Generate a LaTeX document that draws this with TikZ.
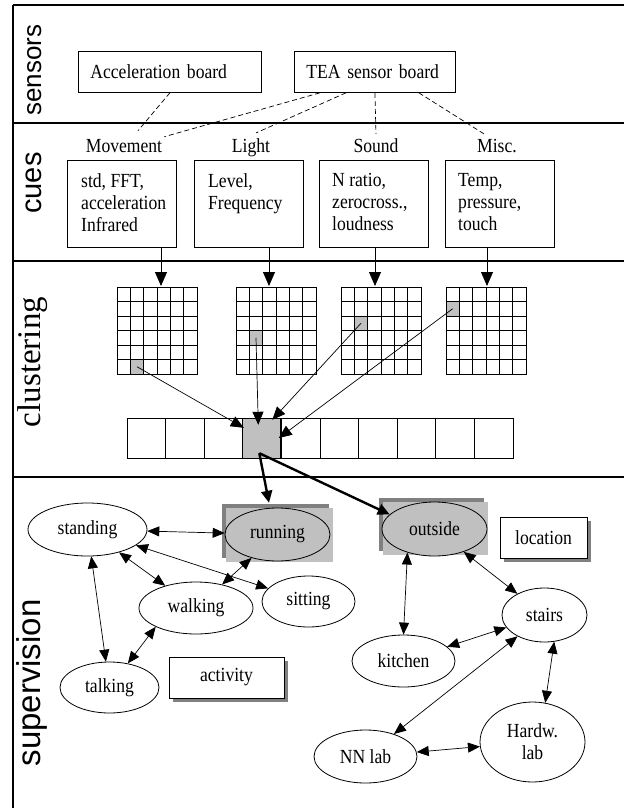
\documentclass[tikz,border=0pt]{standalone}
\usepackage{fontspec}
\setmainfont{Liberation Serif}
\setsansfont{Liberation Sans}
\newfontfamily\narrowserif[FakeStretch=0.88]{Liberation Serif}
\usepackage{tikz}
\usetikzlibrary{positioning,arrows.meta,shapes.geometric,shadows}
\definecolor{cellgray}{RGB}{192,192,192}
\definecolor{dropgray}{RGB}{128,128,128}

\begin{document}
\begin{tikzpicture}[x=1pt,y=-1pt,
    txt/.style={font=\narrowserif\fontsize{20}{22}\selectfont},
    sepline/.style={line width=2pt},
    seclabel/.style={rotate=90, anchor=base, inner sep=0pt},
    board/.style={txt, draw, line width=0.8pt, anchor=north west,
      minimum height=41pt, inner xsep=12pt, align=left},
    cuelabel/.style={txt, anchor=base, inner sep=2pt},
    cuebox/.style={draw, line width=0.8pt, anchor=north west,
      minimum width=109pt, minimum height=87pt},
    cuetext/.style={txt, anchor=north west, align=left, inner sep=0pt},
    wire/.style={dash pattern=on 5pt off 3pt, line width=0.7pt},
    feed/.style={-{Triangle[length=14pt,width=12pt]}, line width=0.8pt},
    clu/.style={-{Triangle[length=13pt,width=11pt]}, line width=0.7pt},
    hotcell/.style={draw, fill=cellgray, inner sep=0pt,
      minimum width=38.6pt, minimum height=40pt},
    oval/.style={txt, ellipse, draw, line width=0.8pt, fill=white,
      inner sep=0pt, align=center},
    backdrop/.style={fill=cellgray, inner sep=0pt,
      copy shadow={shadow xshift=-4pt, shadow yshift=4pt, fill=dropgray, draw=none}},
    tagbox/.style={txt, draw, line width=0.8pt, fill=white, inner sep=0pt,
      drop shadow={shadow xshift=4pt, shadow yshift=-4pt, fill=dropgray, opacity=1}},
    link/.style={{Triangle[length=12pt,width=10pt]}-{Triangle[length=12pt,width=10pt]},
      line width=0.7pt},
    push/.style={-{Triangle[length=12pt,width=11pt]}, line width=2.4pt},
  ]
  \useasboundingbox (0,0) rectangle (624,808);

  % frame and the four bands
  \draw[line width=1.5pt] (13,5) -- (13,808);
  \foreach \y in {5,123,261,477} \draw[sepline] (13,\y) -- (624,\y);
  \node[seclabel, font=\sffamily\fontsize{26}{26}\selectfont] (lsens) at (41,70) {sensors};
  \node[seclabel, font=\sffamily\fontsize{29}{29}\selectfont] (lcues) at (41,183) {cues};
  \node[seclabel, font=\rmfamily\fontsize{33}{33}\selectfont] (lclus) at (40,362) {clustering};
  \node[seclabel, font=\sffamily\fontsize{33}{33}\selectfont] (lsup) at (40,683) {supervision};

  % sensors
  \node[board, text width=159pt] (accb) at (78,51) {Acceleration board};
  \node[board, text width=137pt] (teab) at (294,51) {TEA sensor board};

  % cues
  \node[cuelabel] (mov) at (124,152) {Movement};
  \node[cuelabel] (lig) at (251,152) {Light};
  \node[cuelabel] (snd) at (376,152) {Sound};
  \node[cuelabel] (msc) at (497,152) {Misc.};
  \node[cuebox] (movbox) at (67,160) {};
  \node[cuebox] (ligbox) at (194,160) {};
  \node[cuebox] (sndbox) at (319,160) {};
  \node[cuebox] (mscbox) at (445,160) {};
  \node[cuetext] at ([xshift=14pt,yshift=-13.5pt]movbox.north west) {std, FFT,\\acceleration\\Infrared};
  \node[cuetext] at ([xshift=14pt,yshift=-13.5pt]ligbox.north west) {Level,\\Frequency};
  \node[cuetext] at ([xshift=13pt,yshift=-13.5pt]sndbox.north west) {N ratio,\\zerocross.,\\loudness};
  \node[cuetext] at ([xshift=13pt,yshift=-13.5pt]mscbox.north west) {Temp,\\pressure,\\touch};

  \draw[wire] (accb.south) -- ([xshift=14pt,yshift=6pt]mov.north);
  \draw[wire] ([xshift=26pt]teab.south west) -- (mov.north east);
  \draw[wire] ([xshift=52pt]teab.south west) -- ([xshift=5pt,yshift=3pt]lig.north);
  \draw[wire] (teab.south) -- ([yshift=2pt]snd.north);
  \draw[wire] ([xshift=-37pt]teab.south east) -- ([xshift=10pt,yshift=2pt]msc.north west);

  % clustering: four 6x6 maps, one winner cell each
  \foreach \gx/\ax/\cc/\rr/\gn in {117/161/1/5/1, 236/269/1/3/2, 341/375/1/2/3, 446/487/0/1/4} {
    \fill[cellgray] (\gx+13.33*\cc, 287+14.5*\rr) rectangle ++(13.33,14.5);
    \coordinate (hit\gn) at (\gx+13.33*\cc+6.67, 287+14.5*\rr+7.25);
    \coordinate (gtop\gn) at (\ax,286);
    \foreach \i in {0,...,5} \foreach \j in {0,...,5}
      \draw[line width=0.8pt] (\gx+13.33*\i, 287+14.5*\j) rectangle ++(13.33,14.5);
  }
  \foreach \b/\g in {movbox/1, ligbox/2, sndbox/3, mscbox/4}
    \draw[feed] (\b.south -| gtop\g) -- (gtop\g);

  \foreach \k in {0,...,9} \draw[line width=0.8pt] (127+38.6*\k,418) rectangle ++(38.6,40);
  \node[hotcell] (hot) at (261.3,438) {};
  \draw[clu] (hit1) -- ([xshift=2pt,yshift=-10pt]hot.north west);
  \draw[clu] (hit2) -- ([xshift=-3pt,yshift=-7pt]hot.north);
  \draw[clu] (hit3) -- ([xshift=11pt,yshift=-2pt]hot.north);
  \draw[clu] (hit4) -- ([xshift=-2pt]hot.east);

  % supervision
  \node[backdrop, minimum width=107pt, minimum height=54pt] (runbg) at (279,535) {};
  \node[backdrop, minimum width=105pt, minimum height=53pt] (outbg) at (435.5,528.5) {};
  \node[oval, minimum width=119pt, minimum height=53pt] (standing) at (87.5,529.5) {standing};
  \node[oval, fill=cellgray, minimum width=105pt, minimum height=53pt] (running) at (277.5,534.5) {running};
  \node[oval, fill=cellgray, minimum width=105pt, minimum height=54pt] (outside) at (434.5,529) {outside};
  \node[oval, minimum width=114pt, minimum height=52pt] (walking) at (196,608) {walking};
  \node[oval, minimum width=93pt, minimum height=51pt] (sitting) at (308.5,601.5) {sitting};
  \node[oval, minimum width=99pt, minimum height=51pt] (talking) at (109.5,687.5) {talking};
  \node[oval, minimum width=85pt, minimum height=54pt] (stairs) at (544.5,615) {stairs};
  \node[oval, minimum width=103pt, minimum height=52pt] (kitchen) at (403.5,661) {kitchen};
  \node[oval, minimum width=103pt, minimum height=53pt] (nnlab) at (365.5,756.5) {NN lab};
  \node[oval, minimum width=105pt, minimum height=80pt] (hwlab) at (532.5,742) {Hardw.\\lab};
  \node[tagbox, minimum width=87pt, minimum height=41pt] (loc) at (543.5,537.5) {location};
  \node[tagbox, minimum width=115pt, minimum height=41pt] (act) at (226.5,677.5) {activity};

  \draw[push] ([xshift=-2pt,yshift=5pt]hot.south) -- ([xshift=-10pt,yshift=5pt]runbg.north);
  \draw[push] ([xshift=-2pt,yshift=5pt]hot.south) -- (outside.162);

  \draw[link] (standing) -- (running);
  \draw[link] (standing) -- (sitting);
  \draw[link] (standing) -- (walking);
  \draw[link] (standing) -- (talking);
  \draw[link] (running) -- (walking);
  \draw[link] (walking.-155) -- (talking);
  \draw[link] (outside.-139) -- (kitchen.north);
  \draw[link] (outside) -- (stairs);
  \draw[link] (kitchen) -- (stairs);
  \draw[link] (nnlab) -- (stairs);
  \draw[link] (stairs.-70) -- (hwlab.72);
  \draw[link] (nnlab) -- (hwlab);
\end{tikzpicture}
\end{document}
